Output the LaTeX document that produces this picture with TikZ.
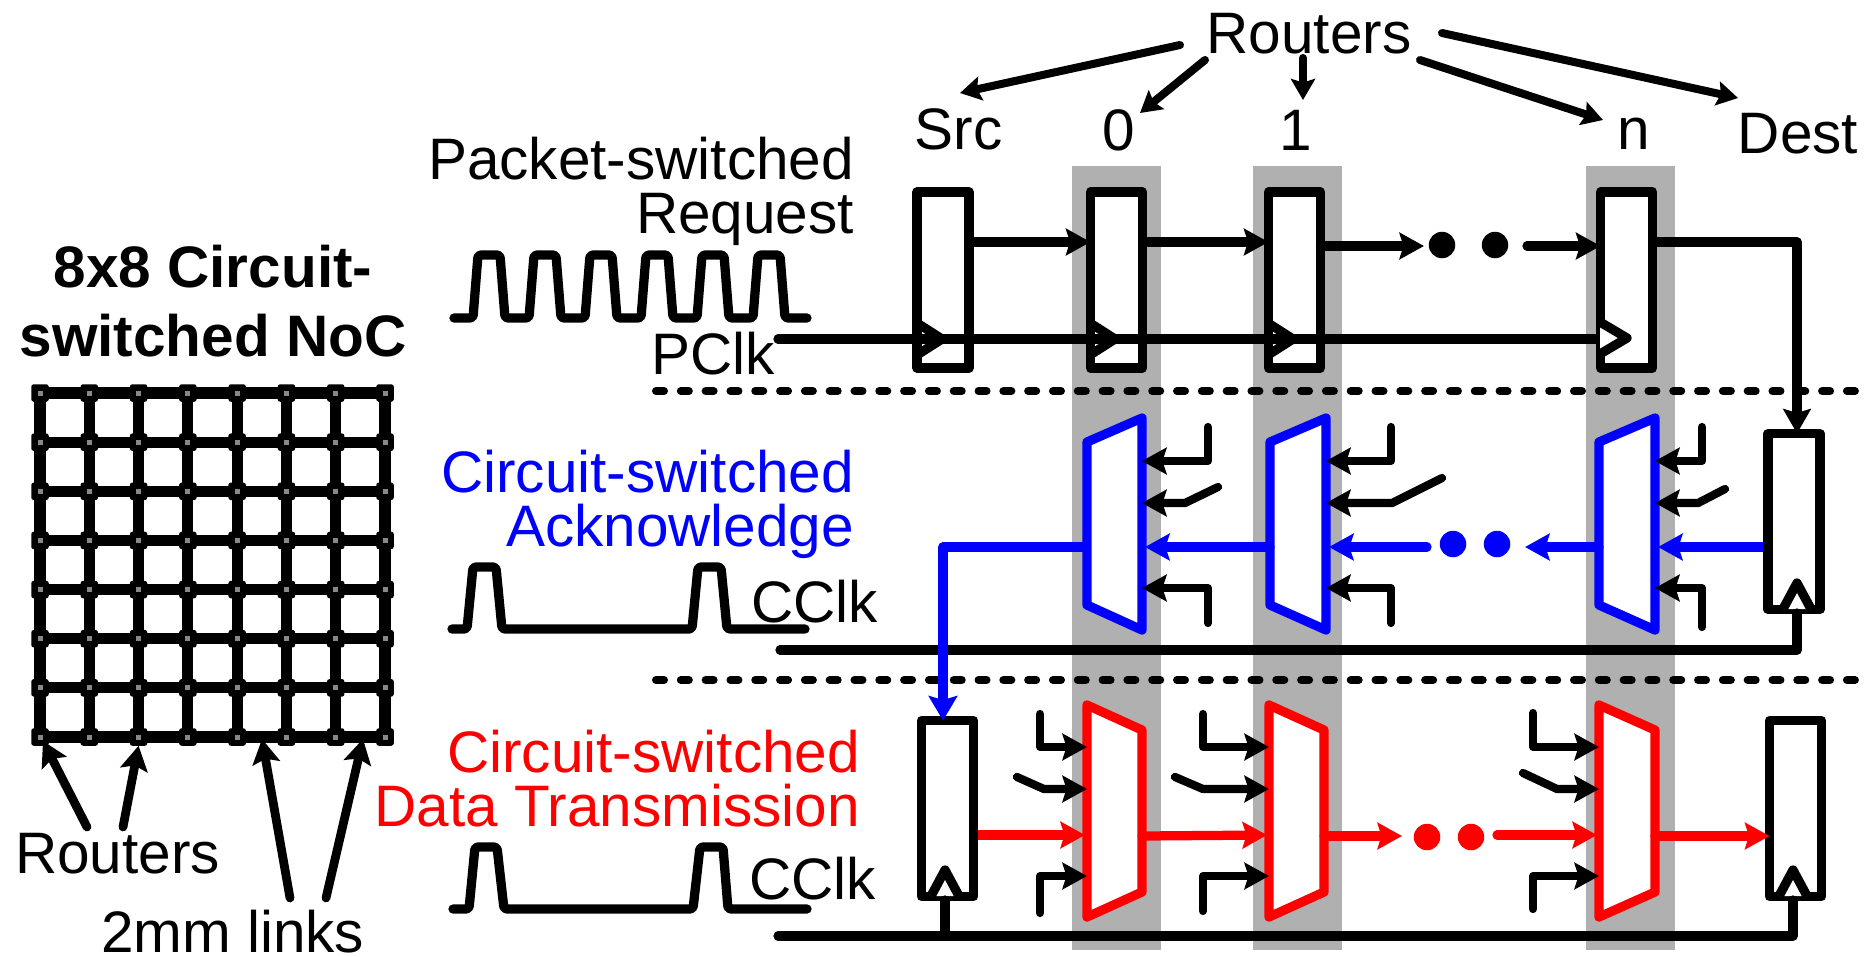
\documentclass[tikz,border=0pt]{standalone}
\usepackage{fontspec}
\setmainfont{Liberation Sans}
\usetikzlibrary{arrows.meta}
\definecolor{band}{HTML}{B0B0B0}
\definecolor{routerdot}{HTML}{888888}
\tikzset{
  base line/.style={line width=3.7pt,line join=round},
  wire/.style={base line,line cap=round},
  arr/.style={wire,-{Stealth[length=9.8pt,width=10.6pt,inset=1.6pt]}},
  smallarr/.style={line width=3.2pt,line cap=round,line join=round,-{Stealth[length=8.4pt,width=9.6pt,inset=1.4pt]}},
  bandbox/.style={fill=band,draw=none,minimum width=35.6pt,minimum height=313.6pt,inner sep=0,outer sep=0},
  reg/.style={base line,draw=black,fill=white,rectangle,minimum width=20.8pt,minimum height=70.4pt,inner sep=0,outer sep=0},
  sep/.style={line width=3.2pt,line cap=round,dash pattern=on 3.2pt off 6.724pt},
  txt/.style={inner sep=0,outer sep=0,font=\fontsize{23.4}{21.5}\selectfont},
  btxt/.style={inner sep=0,outer sep=0,align=center,font=\bfseries\fontsize{23.4}{27.6}\selectfont},
  dotn/.style={circle,draw=none,minimum size=10.6pt,inner sep=0,outer sep=0},
  router/.style={rectangle,fill=black,rounded corners=1pt,minimum size=7pt,inner sep=0,outer sep=0},
  rdot/.style={rectangle,fill=routerdot,minimum size=2pt,inner sep=0,outer sep=0},
  link/.style={line width=4.5pt},
  mesharr/.style={line width=3.5pt,line cap=round,-{Stealth[length=9.8pt,width=11pt,inset=1.8pt]}},
}
% ack mux: name, left x, right x
\newcommand{\ackmux}[3]{%
  \draw[base line,draw=blue,fill=white] (#2,442) -- (#3,418) -- (#3,630) -- (#2,605) -- cycle;
  \coordinate (#1o) at (#2,547);
  \coordinate (#1i1) at (#3,461);
  \coordinate (#1i2) at (#3,503);
  \coordinate (#1i3) at (#3+3,547);
  \coordinate (#1i4) at (#3,588);
}
% data mux
\newcommand{\datamux}[3]{%
  \draw[base line,draw=red,fill=white] (#2,705) -- (#3,730) -- (#3,892) -- (#2,917) -- cycle;
  \coordinate (#1o) at (#3,836);
  \coordinate (#1i1) at (#2,747);
  \coordinate (#1i2) at (#2,789);
  \coordinate (#1i3) at (#2-2,835);
  \coordinate (#1i4) at (#2,876);
}
% select inputs: mux, vertical x, bottom y, slanted-end x, slanted-end y, knee x, y of top input, y of input 2
\newcommand{\muxin}[8]{%
  \coordinate (#1t1) at (#2,#7);
  \coordinate (#1k2) at (#6,#8);
  \coordinate (#1t2) at (#4,#5);
  \coordinate (#1t4) at (#2,#3);
  \draw[arr,line width=3.3pt] (#1t1) |- (#1i1);
  \draw[arr,line width=3.3pt] (#1t2) -- (#1k2) -- (#1i2);
  \draw[arr,line width=3.3pt] (#1t4) |- (#1i4);
}
\newcommand{\clktri}[2]{\draw[base line] (#1,322+#2) -- (#1+25,338+#2) -- (#1,354+#2);}
\newcommand{\uptri}[2]{\draw[base line,fill=white] (#1-14,#2) -- (#1,#2-26) -- (#1+14,#2);}
\begin{document}
\begin{tikzpicture}[x=0.4pt,y=-0.4pt]
\useasboundingbox (0,0) rectangle (1872,956);
% grey bands
\node[bandbox] (b0) at (1116.5,558) {};
\node[bandbox] (b1) at (1297.5,558) {};
\node[bandbox] (bn) at (1630.5,558) {};
% dashed separators
\coordinate (s1a) at (656,391); \coordinate (s1b) at (1855,391);
\coordinate (s2a) at (656,680); \coordinate (s2b) at (1855,680);
\draw[sep] (s1a) -- (s1b);
\draw[sep] (s2a) -- (s2b);
% mesh
\foreach \i in {0,...,7} \foreach \j in {0,...,7} {
  \node[router] (m\i\j) at ({40+49.29*\i},{393+49.14*\j}) {};
}
\foreach \i/\n in {0/1,1/2,2/3,3/4,4/5,5/6,6/7} \foreach \j in {0,...,7} {
  \draw[link] (m\i\j.center) -- (m\n\j.center);
  \draw[link] (m\j\i.center) -- (m\j\n.center);
}
\foreach \i in {0,...,7} \foreach \j in {0,...,7} {
  \node[rdot] at (m\i\j.center) {};
}
% left labels
\node[btxt,anchor=base] (noc) at (213,356) {8x8 Circuit-\\switched NoC};
\node[txt,anchor=base west] (lr) at (15,873) {Routers};
\node[txt,anchor=base west] (ll) at (101,952) {2mm links};
\coordinate (la) at (87,827); \coordinate (lb) at (123,827);
\coordinate (lc) at (290,898); \coordinate (ld) at (326,898);
\coordinate (lat) at (43,741); \coordinate (lct) at (262,739); \coordinate (ldt) at (363,739);
\draw[mesharr] (la) -- (lat);
\draw[mesharr] (lb) -- (m27.south);
\draw[mesharr] (lc) -- (lct);
\draw[mesharr] (ld) -- (ldt);
% top labels
\node[txt,anchor=base] (rt) at (1309,53) {Routers};
\node[txt,anchor=base] (src) at (958.5,149) {Src};
\node[txt,anchor=base] (n0) at (1119,150) {0};
\node[txt,anchor=base] (n1) at (1296,150) {1};
\node[txt,anchor=base] (nn) at (1634,149) {n};
\node[txt,anchor=base] (dst) at (1798,153) {Dest};
\coordinate (rs) at (1180,45); \coordinate (r0) at (1205,60);
\coordinate (r1) at (1303,58); \coordinate (rn) at (1420,60);
\coordinate (rd) at (1442,33);
\coordinate (ts) at (960,93); \coordinate (t0) at (1140,113);
\coordinate (t1) at (1303,100); \coordinate (tn) at (1603,120);
\coordinate (td) at (1738,98);
\draw[smallarr] (rs) -- (ts);
\draw[smallarr] (r0) -- (t0);
\draw[smallarr] (r1) -- (t1);
\draw[smallarr] (rn) -- (tn);
\draw[smallarr] (rd) -- (td);
% row labels
\node[txt,anchor=base east,align=right] (lreq) at (854,233) {Packet-switched\\Request};
\node[txt,anchor=base west] (pclk) at (651,374) {PClk};
\node[txt,anchor=base east,align=right,text=blue] (lack) at (854,546) {Circuit-switched\\Acknowledge};
\node[txt,anchor=base west] (cclka) at (751,622) {CClk};
\node[txt,anchor=base east,align=right,text=red] (ldat) at (860,826) {Circuit-switched\\Data Transmission};
\node[txt,anchor=base west] (cclkb) at (749,899) {CClk};
% waveforms
\draw[wire,rounded corners=1.2pt] (454,318) -- (473,318)
  -- (478,255) -- (500,255) -- (505,318) -- (529,318)
  -- (534,255) -- (556,255) -- (561,318) -- (585,318)
  -- (590,255) -- (612,255) -- (617,318) -- (641,318)
  -- (646,255) -- (668,255) -- (673,318) -- (697,318)
  -- (702,255) -- (724,255) -- (729,318) -- (753,318)
  -- (758,255) -- (780,255) -- (785,318) -- (807,318);
\draw[wire,rounded corners=1.2pt] (452,629) -- (467,629) -- (473,567) -- (496,567) -- (502,629)
  -- (692,629) -- (698,567) -- (721,567) -- (727,629) -- (805,629);
\draw[wire,rounded corners=1.2pt] (453,909) -- (469,909) -- (475,847) -- (497,847) -- (504,909)
  -- (693,909) -- (700,847) -- (723,847) -- (728,909) -- (807,909);
% ---- packet-switched row
\node[reg] (rS) at (943,280) {};
\node[reg] (r0r) at (1116.5,280) {};
\node[reg] (r1r) at (1294.5,280) {};
\node[reg] (rNr) at (1626.5,280) {};
\draw[arr] (rS.east |- 0,242) -- (r0r.west |- 0,242);
\coordinate (a01) at (1148,242);
\draw[arr] (a01) -- (r1r.west |- 0,242);
\coordinate (pe) at (1424,246);
\draw[arr] (r1r.east |- 0,246) -- (pe);
\node[dotn,fill=black] (pd1) at (1442,245) {};
\node[dotn,fill=black] (pd2) at (1495,245) {};
\coordinate (pa) at (1527,246);
\draw[arr] (pa) -- (rNr.west |- 0,246);
% clock triangles (open)
\clktri{917}{1}
\clktri{1090}{1}
\clktri{1268}{1}
\coordinate (pc) at (778,339);
\draw[wire] (pc) -- (rNr.west |- 0,339);
\draw[base line,fill=white] (1600,322) -- (1627,338) -- (1600,354);
% ---- ack row
\ackmux{a0}{1087}{1142}
\ackmux{a1}{1270}{1326}
\ackmux{an}{1599}{1655}
\coordinate (aDo) at (1764,547);
\draw[base line,draw=blue,-{Stealth[length=9.8pt,width=10.6pt,inset=1.6pt]}] (aDo) -- (ani3);
\node[reg] (aD) at (1794,521.5) {};
\uptri{1797}{609}
\muxin{a0}{1208}{623}{1218}{487}{1185}{427}{503}
\muxin{a1}{1391}{623}{1442}{478}{1392}{427}{503}
\muxin{an}{1702}{627}{1725}{489}{1698}{427}{503}
\draw[arr,draw=blue] (a1o) -- (a0i3);
\coordinate (ba) at (1427,547);
\draw[arr,draw=blue] (ba) -- (a1i3);
\node[dotn,fill=blue] (ad1) at (1453,544) {};
\node[dotn,fill=blue] (ad2) at (1497,544) {};
\coordinate (bb) at (1525,547);
\draw[arr,draw=blue] (ano) -- (bb);
% packet to dest
\draw[base line,-{Stealth[length=9.8pt,width=11pt,inset=1.6pt]}] (rNr.east |- 0,242) -| (aD.north -| 1797,0);
% ack clock
\coordinate (ac) at (780,650);
\draw[wire] (ac) -| (1797,613);
% ---- data row
\coordinate (dSo) at (978,835);
\datamux{d0}{1087}{1142}
\datamux{d1}{1269}{1324}
\datamux{dn}{1599}{1655}
\draw[base line,draw=red,-{Stealth[length=9.8pt,width=10.6pt,inset=1.6pt]}] (dSo) -- (d0i3);
\node[reg] (dS) at (947.5,808.5) {};
\node[reg] (dD) at (1795.5,808.5) {};
\uptri{945}{896}
\uptri{1793}{896}
\muxin{d0}{1040}{913}{1017}{777}{1044}{714}{789}
\muxin{d1}{1203}{911}{1175}{777}{1203}{714}{789}
\muxin{dn}{1533}{909}{1523}{773}{1557}{713}{789}
% ack output to data source register
\draw[base line,draw=blue,-{Stealth[length=9.8pt,width=11.4pt,inset=1.6pt]}] (a0o) -| (dS.north -| 943,0);
\draw[arr,draw=red] (d0o) -- (d1i3);
\coordinate (re) at (1402,836);
\draw[arr,draw=red] (d1o) -- (re);
\node[dotn,fill=red] (dd1) at (1427,837) {};
\node[dotn,fill=red] (dd2) at (1471,837) {};
\coordinate (da) at (1497,835);
\draw[arr,draw=red] (da) -- (dni3);
\draw[arr,draw=red] (dno) -- (dD.west |- dno);
% data clock
\coordinate (dc) at (778,936);
\draw[wire] (dc) -| (1793,900);
\draw[wire] (945,936) -- (945,900);
\end{tikzpicture}
\end{document}
